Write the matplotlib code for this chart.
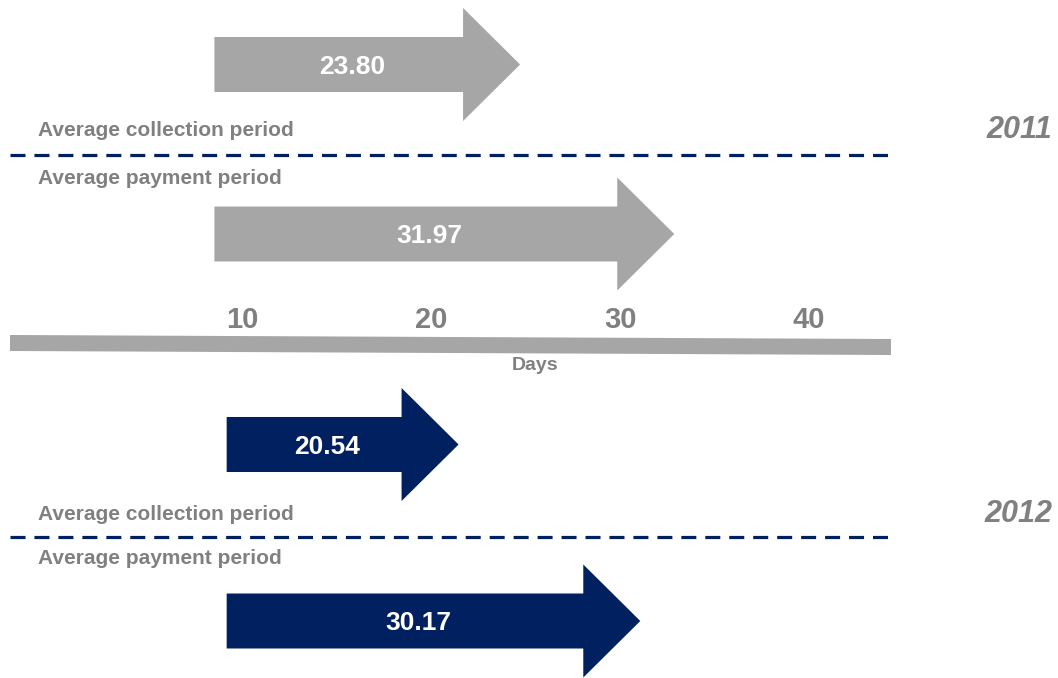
import matplotlib.pyplot as plt
from matplotlib.patches import Polygon

plt.rcParams['font.family'] = ['Liberation Sans', 'DejaVu Sans']

years = ['2011', '2012']
collection_days = [23.80, 20.54]
payment_days = [31.97, 30.17]
tick_days = [10, 20, 30, 40]
row_labels = ['Average collection period', 'Average payment period']

GRAY = '#a6a6a6'
TEXT_GRAY = '#808080'
NAVY = '#002060'
arrow_colors = [GRAY, NAVY]
arrow_start = [8.5, 9.15]  # where arrows begin, in days

# x axis in days (54 px = day 0, 18.87 px per day); y in pixel rows
px_per_day = 18.87
x0 = -54 / px_per_day
x1 = (1058 - 54) / px_per_day


def px(v):
    return v / px_per_day + x0


def arrow(ax, start, value, yc, color):
    tip = value + 0.9
    head = 57 / px_per_day
    bh, hh = 27.5, 56.5
    pts = [(start, yc - bh), (tip - head, yc - bh), (tip - head, yc - hh),
           (tip, yc), (tip - head, yc + hh), (tip - head, yc + bh),
           (start, yc + bh)]
    ax.add_patch(Polygon(pts, closed=True, facecolor=color, edgecolor='none'))
    ax.text((start + tip - head) / 2 + 0.7, yc + 2, f'{value:.2f}',
            color='white', fontsize=19, fontweight='bold',
            ha='center', va='center')


fig = plt.figure(figsize=(10.58, 6.78), dpi=100)
ax = fig.add_axes([0, 0, 1, 1])
ax.set_xlim(x0, x1)
ax.set_ylim(678, 0)
ax.axis('off')

# layout rows per year block: collection arrow, label, dashed line, label, payment arrow
blocks = [dict(coll=64.5, lab1=130, dash=155, lab2=178, pay=234),
          dict(coll=444.5, lab1=514, dash=537, lab2=559, pay=621)]

for i, yr in enumerate(years):
    b = blocks[i]
    arrow(ax, arrow_start[i], collection_days[i], b['coll'], arrow_colors[i])
    arrow(ax, arrow_start[i], payment_days[i], b['pay'], arrow_colors[i])
    ax.text(px(38), b['lab1'], row_labels[0], color=TEXT_GRAY, fontsize=15,
            fontweight='bold', ha='left', va='center')
    ax.text(px(38), b['lab2'], row_labels[1], color=TEXT_GRAY, fontsize=15,
            fontweight='bold', ha='left', va='center')
    ax.plot([px(10), px(891)], [b['dash'], b['dash']], color=NAVY, lw=2.3,
            dashes=(4.7, 2.8))
    ax.text(px(1052), b['lab1'], yr, color=TEXT_GRAY, fontsize=22,
            fontweight='bold', style='italic', ha='right', va='center')

# days scale bar
ax.add_patch(Polygon([(px(10), 335), (px(891), 339), (px(891), 355), (px(10), 351)],
                     closed=True, facecolor=GRAY, edgecolor='none'))
for d in tick_days:
    ax.text(d, 320, str(d), color=TEXT_GRAY, fontsize=21, fontweight='bold',
            ha='center', va='center')
ax.text(px(535), 366, 'Days', color=TEXT_GRAY, fontsize=14, fontweight='bold',
        ha='center', va='center')

fig.savefig('out.png', dpi=100)
